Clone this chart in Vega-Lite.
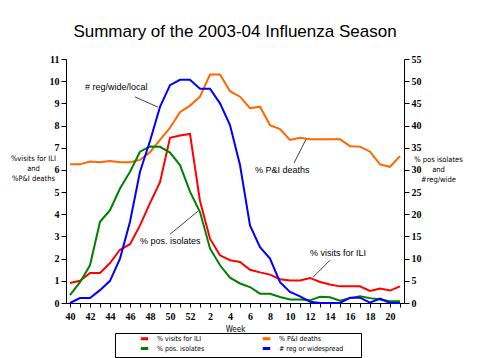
{
  "$schema": "https://vega.github.io/schema/vega-lite/v6.json",
  "width": 338,
  "height": 244,
  "autosize": "none",
  "padding": {"left": 66, "top": 59, "right": 73, "bottom": 55},
  "background": "white",
  "title": {"text": "Summary of the 2003-04 Influenza Season", "font": "Liberation Sans", "fontSize": 17, "fontWeight": "normal", "color": "black", "anchor": "middle", "offset": 13},
  "config": {
    "view": {"stroke": null},
    "axis": {"grid": false, "domainColor": "black", "tickColor": "black", "labelColor": "black", "titleColor": "black", "domainWidth": 1, "tickWidth": 1, "labelOverlap": false, "labelFlush": false}
  },
  "data": {"values": [
    {"i": 0, "week": 40, "ili": 0.9, "pi": 6.25, "iso": 1.8, "reg": 0},
    {"i": 1, "week": 41, "ili": 1.0, "pi": 6.25, "iso": 4.7, "reg": 1.1},
    {"i": 2, "week": 42, "ili": 1.35, "pi": 6.38, "iso": 8.5, "reg": 1.1},
    {"i": 3, "week": 43, "ili": 1.35, "pi": 6.35, "iso": 18.3, "reg": 2.9},
    {"i": 4, "week": 44, "ili": 1.8, "pi": 6.4, "iso": 20.9, "reg": 5.0},
    {"i": 5, "week": 45, "ili": 2.4, "pi": 6.35, "iso": 25.8, "reg": 10},
    {"i": 6, "week": 46, "ili": 2.65, "pi": 6.35, "iso": 29.6, "reg": 18.3},
    {"i": 7, "week": 47, "ili": 3.5, "pi": 6.45, "iso": 34.1, "reg": 29.6},
    {"i": 8, "week": 48, "ili": 4.5, "pi": 6.8, "iso": 35.3, "reg": 36.5},
    {"i": 9, "week": 49, "ili": 5.45, "pi": 7.35, "iso": 35.2, "reg": 44.2},
    {"i": 10, "week": 50, "ili": 7.45, "pi": 7.9, "iso": 33.9, "reg": 49.1},
    {"i": 11, "week": 51, "ili": 7.55, "pi": 8.6, "iso": 31.1, "reg": 50.3},
    {"i": 12, "week": 52, "ili": 7.62, "pi": 8.9, "iso": 25.1, "reg": 50.3},
    {"i": 13, "week": 1, "ili": 4.6, "pi": 9.3, "iso": 20.5, "reg": 48.3},
    {"i": 14, "week": 2, "ili": 2.9, "pi": 10.3, "iso": 12.3, "reg": 48.3},
    {"i": 15, "week": 3, "ili": 2.15, "pi": 10.3, "iso": 8.5, "reg": 45},
    {"i": 16, "week": 4, "ili": 1.93, "pi": 9.55, "iso": 5.7, "reg": 40.1},
    {"i": 17, "week": 5, "ili": 1.85, "pi": 9.3, "iso": 4.4, "reg": 31.1},
    {"i": 18, "week": 6, "ili": 1.5, "pi": 8.78, "iso": 3.6, "reg": 17.5},
    {"i": 19, "week": 7, "ili": 1.38, "pi": 8.85, "iso": 2.1, "reg": 12.6},
    {"i": 20, "week": 8, "ili": 1.28, "pi": 8.02, "iso": 2.1, "reg": 10},
    {"i": 21, "week": 9, "ili": 1.07, "pi": 7.84, "iso": 1.35, "reg": 4.7},
    {"i": 22, "week": 10, "ili": 1.02, "pi": 7.35, "iso": 0.8, "reg": 2.5},
    {"i": 23, "week": 11, "ili": 1.02, "pi": 7.45, "iso": 0.8, "reg": 1.5},
    {"i": 24, "week": 12, "ili": 1.13, "pi": 7.38, "iso": 0.6, "reg": 0.3},
    {"i": 25, "week": 13, "ili": 0.95, "pi": 7.38, "iso": 1.4, "reg": 0},
    {"i": 26, "week": 14, "ili": 0.83, "pi": 7.38, "iso": 1.3, "reg": 0},
    {"i": 27, "week": 15, "ili": 0.75, "pi": 7.38, "iso": 0.5, "reg": 0},
    {"i": 28, "week": 16, "ili": 0.75, "pi": 7.07, "iso": 1.1, "reg": 1.2},
    {"i": 29, "week": 17, "ili": 0.75, "pi": 7.05, "iso": 1.5, "reg": 1.2},
    {"i": 30, "week": 18, "ili": 0.54, "pi": 6.82, "iso": 1.1, "reg": 0.1},
    {"i": 31, "week": 19, "ili": 0.65, "pi": 6.25, "iso": 0.8, "reg": 1.0},
    {"i": 32, "week": 20, "ili": 0.56, "pi": 6.14, "iso": 0.4, "reg": 0},
    {"i": 33, "week": 21, "ili": 0.75, "pi": 6.62, "iso": 0.4, "reg": 0}
  ]},
  "layer": [
    {
      "encoding": {
        "x": {"field": "i", "type": "quantitative",
          "scale": {"domain": [-0.4, 33.4], "nice": false, "zero": false},
          "axis": {"values": [0,1,2,3,4,5,6,7,8,9,10,11,12,13,14,15,16,17,18,19,20,21,22,23,24,25,26,27,28,29,30,31,32,33],
            "labelExpr": "datum.value % 2 == 0 ? (datum.value <= 12 ? datum.value + 40 : datum.value - 12) : ''",
            "labelFont": "Liberation Serif", "labelFontWeight": "bold", "labelFontSize": 10, "labelPadding": 4,
            "tickSize": 4,
            "title": "Week", "titleFont": "DejaVu Sans Condensed", "titleFontSize": 8, "titleFontWeight": "normal", "titlePadding": 4}},
        "y": {"field": "value", "type": "quantitative",
          "scale": {"domain": [0, 11], "nice": false},
          "axis": {"values": [0,1,2,3,4,5,6,7,8,9,10,11], "tickSize": 5, "labelPadding": 2,
            "labelFont": "Liberation Serif", "labelFontWeight": "bold", "labelFontSize": 10,
            "title": ["%visits for ILI", "and", "%P&I deaths"], "titleAngle": 0, "titleAlign": "center", "titleBaseline": "top",
            "titleX": -33, "titleY": 95, "titleFont": "DejaVu Sans Condensed", "titleFontSize": 7.5, "titleFontWeight": "normal", "titleLineHeight": 10}}
      },
      "layer": [
        {
          "transform": [{"fold": ["ili", "pi"], "as": ["series", "value"]}],
          "mark": {"type": "line", "strokeWidth": 2},
          "encoding": {
            "color": {"field": "series", "type": "nominal",
              "scale": {"domain": ["ili", "pi", "iso", "reg"], "range": ["#FF0000", "#FF6600", "#008000", "#0000FF"]},
              "legend": {"orient": "none", "legendX": 49, "legendY": 274, "columns": 2, "direction": "horizontal",
                "title": " ", "titleOrient": "right", "titlePadding": 16,
                "symbolType": "M-3.75,0H3.75", "symbolStrokeWidth": 3, "symbolSize": 4, "symbolOffset": 24,
                "labelFont": "DejaVu Sans Condensed", "labelFontSize": 7, "labelColor": "black", "rowPadding": -6, "columnPadding": 34,
                "strokeColor": "black", "padding": 2, "labelOffset": 9,
                "labelExpr": "datum.label == 'ili' ? '% visits for ILI' : datum.label == 'pi' ? '% P&I deaths' : datum.label == 'iso' ? '% pos. isolates' : '# reg or widespread'"}}
          }
        },
        {
          "data": {"values": [
            {"i": 6.5, "value": 9.29, "i2": 8.8, "value2": 8.83},
            {"i": 22.4, "value": 6.31, "i2": 23.6, "value2": 7.38},
            {"i": 10.0, "value": 3.1, "i2": 12.8, "value2": 4.14},
            {"i": 24.3, "value": 1.16, "i2": 26.0, "value2": 1.93}
          ]},
          "mark": {"type": "rule", "color": "#404040", "strokeWidth": 1},
          "encoding": {
            "x2": {"field": "i2"},
            "y2": {"field": "value2"}
          }
        },
        {
          "data": {"values": [
            {"i": 1.5, "value": 9.74, "label": "# reg/wide/local"},
            {"i": 18.5, "value": 5.99, "label": "% P&I deaths"},
            {"i": 7.0, "value": 2.79, "label": "% pos. isolates"},
            {"i": 24.0, "value": 2.24, "label": "% visits for ILI"}
          ]},
          "mark": {"type": "text", "align": "left", "baseline": "middle", "font": "Liberation Sans", "fontSize": 9, "color": "black"},
          "encoding": {
            "text": {"field": "label"}
          }
        }
      ]
    },
    {
      "transform": [{"fold": ["iso", "reg"], "as": ["series", "value"]}],
      "mark": {"type": "line", "strokeWidth": 2},
      "encoding": {
        "x": {"field": "i", "type": "quantitative",
          "scale": {"domain": [-0.4, 33.4], "nice": false, "zero": false},
          "axis": {"values": [0,1,2,3,4,5,6,7,8,9,10,11,12,13,14,15,16,17,18,19,20,21,22,23,24,25,26,27,28,29,30,31,32,33],
            "labelExpr": "datum.value % 2 == 0 ? (datum.value <= 12 ? datum.value + 40 : datum.value - 12) : ''",
            "labelFont": "Liberation Serif", "labelFontWeight": "bold", "labelFontSize": 10, "labelPadding": 4,
            "tickSize": 4,
            "title": "Week", "titleFont": "DejaVu Sans Condensed", "titleFontSize": 8, "titleFontWeight": "normal", "titlePadding": 4}},
        "y": {"field": "value", "type": "quantitative",
          "scale": {"domain": [0, 55], "nice": false},
          "axis": {"orient": "right", "values": [0,5,10,15,20,25,30,35,40,45,50,55], "tickSize": 5, "labelPadding": 2,
            "labelFont": "Liberation Serif", "labelFontWeight": "bold", "labelFontSize": 10,
            "title": ["% pos isolates", "and", "#reg/wide"], "titleAngle": 0, "titleAlign": "center", "titleBaseline": "top",
            "titleX": 34, "titleY": 96, "titleFont": "DejaVu Sans Condensed", "titleFontSize": 7.5, "titleFontWeight": "normal", "titleLineHeight": 10}},
        "color": {"field": "series", "type": "nominal"}
      }
    }
  ],
  "resolve": {"scale": {"y": "independent"}}
}
